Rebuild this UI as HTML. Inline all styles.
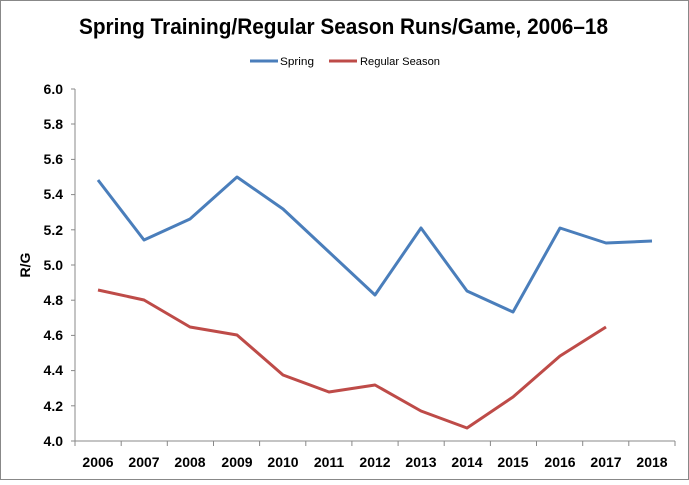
<!DOCTYPE html><html><head><style>body{margin:0;background:#fff}</style></head><body>
<svg width="689" height="480" xmlns="http://www.w3.org/2000/svg" font-family="Liberation Sans Narrow, Liberation Sans, sans-serif">
<rect x="0.5" y="0.5" width="688" height="479" fill="#fff" stroke="#888"/>
<text x="79" y="34" font-size="22" font-weight="bold" textLength="529" lengthAdjust="spacingAndGlyphs">Spring Training/Regular Season Runs/Game, 2006–18</text>
<line x1="250" y1="61" x2="278" y2="61" stroke="#4a7ebb" stroke-width="3"/>
<text x="280" y="65" font-size="11" textLength="34" lengthAdjust="spacingAndGlyphs">Spring</text>
<line x1="329" y1="61" x2="357" y2="61" stroke="#be4b48" stroke-width="3"/>
<text x="360" y="65" font-size="11" textLength="80" lengthAdjust="spacingAndGlyphs">Regular Season</text>
<g stroke="#888" stroke-width="1">
<line x1="75" y1="89" x2="75" y2="441"/>
<line x1="75" y1="441" x2="675" y2="441"/>
<line x1="71" y1="89" x2="75" y2="89"/><line x1="71" y1="124" x2="75" y2="124"/><line x1="71" y1="159.4" x2="75" y2="159.4"/><line x1="71" y1="194.6" x2="75" y2="194.6"/><line x1="71" y1="229.8" x2="75" y2="229.8"/><line x1="71" y1="265" x2="75" y2="265"/><line x1="71" y1="300.2" x2="75" y2="300.2"/><line x1="71" y1="335.4" x2="75" y2="335.4"/><line x1="71" y1="370.6" x2="75" y2="370.6"/><line x1="71" y1="405.8" x2="75" y2="405.8"/><line x1="71" y1="441" x2="75" y2="441"/>
<line x1="75" y1="441" x2="75" y2="446"/><line x1="121.2" y1="441" x2="121.2" y2="446"/><line x1="167.3" y1="441" x2="167.3" y2="446"/><line x1="213.5" y1="441" x2="213.5" y2="446"/><line x1="259.6" y1="441" x2="259.6" y2="446"/><line x1="305.8" y1="441" x2="305.8" y2="446"/><line x1="351.9" y1="441" x2="351.9" y2="446"/><line x1="398.1" y1="441" x2="398.1" y2="446"/><line x1="444.2" y1="441" x2="444.2" y2="446"/><line x1="490.4" y1="441" x2="490.4" y2="446"/><line x1="536.5" y1="441" x2="536.5" y2="446"/><line x1="582.7" y1="441" x2="582.7" y2="446"/><line x1="628.8" y1="441" x2="628.8" y2="446"/><line x1="675" y1="441" x2="675" y2="446"/>
</g>
<g font-size="14" font-weight="bold" text-anchor="end">
<text x="63" y="94">6.0</text><text x="63" y="129">5.8</text><text x="63" y="164">5.6</text><text x="63" y="199">5.4</text><text x="63" y="235">5.2</text><text x="63" y="270">5.0</text><text x="63" y="305">4.8</text><text x="63" y="340">4.6</text><text x="63" y="375">4.4</text><text x="63" y="411">4.2</text><text x="63" y="446">4.0</text>
</g>
<g font-size="14" font-weight="bold" text-anchor="middle">
<text x="98" y="467">2006</text><text x="144" y="467">2007</text><text x="190" y="467">2008</text><text x="237" y="467">2009</text><text x="283" y="467">2010</text><text x="329" y="467">2011</text><text x="375" y="467">2012</text><text x="421" y="467">2013</text><text x="467" y="467">2014</text><text x="513" y="467">2015</text><text x="560" y="467">2016</text><text x="606" y="467">2017</text><text x="652" y="467">2018</text>
</g>
<text transform="translate(30,265) rotate(-90)" text-anchor="middle" font-size="14" font-weight="bold">R/G</text>
<polyline fill="none" stroke="#4a7ebb" stroke-width="3" stroke-linejoin="round" points="98,180 144,240 190,219 237,177 283,209 329,252 375,295 421,228 467,291 513,312 560,228 606,243 652,241"/>
<polyline fill="none" stroke="#be4b48" stroke-width="3" stroke-linejoin="round" points="98,290 144,300 190,327 237,335 283,375 329,392 375,385 421,411 467,428 513,397 560,356 606,327"/>
</svg>
</body></html>
